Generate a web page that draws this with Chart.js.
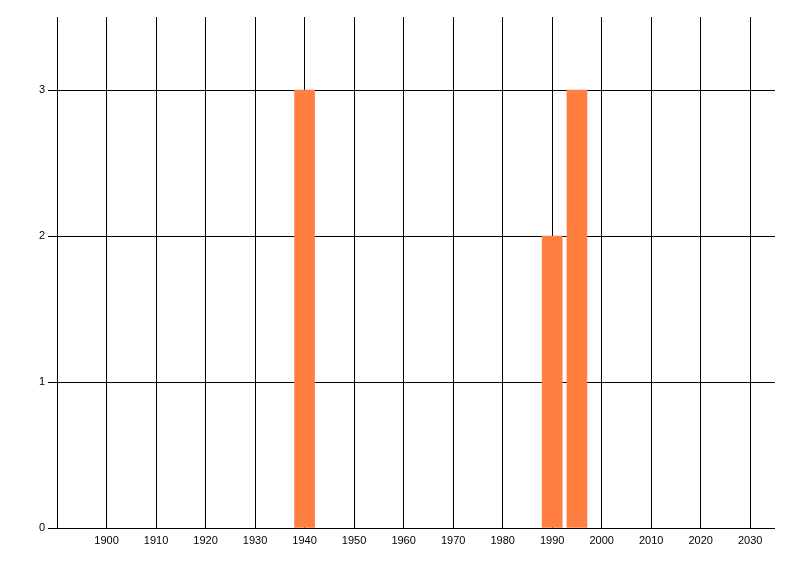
<!DOCTYPE html>
<html>
<head>
<meta charset="utf-8">
<script src="https://cdn.jsdelivr.net/npm/chart.js@4"></script>
<style>
  html, body { margin: 0; padding: 0; background: #fff; }
  #wrap { width: 800px; height: 576px; }
</style>
</head>
<body>
<div id="wrap"><canvas id="myChart" width="800" height="576"></canvas></div>
<script>
const years = [1940, 1990, 1995];
const counts = [3, 2, 3];
const xTicks = [1890, 1900, 1910, 1920, 1930, 1940, 1950, 1960, 1970, 1980, 1990, 2000, 2010, 2020, 2030];
const yTicks = [0, 1, 2, 3];

const ctx = document.getElementById('myChart').getContext('2d');
const myChart = new Chart(ctx, {
    type: 'bar',
    data: {
        datasets: [{
            label: 'Count',
            data: years.map((y, i) => ({ x: y, y: counts[i] })),
            backgroundColor: '#ff7f40',
            borderWidth: 0,
            barThickness: 20
        }]
    },
    options: {
        responsive: false,
        animation: false,
        layout: { padding: { top: 17, right: 25, left: 0, bottom: 0 } },
        plugins: {
            legend: { display: false },
            tooltip: { enabled: false }
        },
        scales: {
            x: {
                type: 'linear',
                min: 1890,
                max: 2035,
                offset: false,
                afterBuildTicks: (scale) => { scale.ticks = xTicks.map(v => ({ value: v })); },
                afterFit: (scale) => { scale.height = 48; },
                border: { display: false },
                grid: { color: '#000', lineWidth: 1, drawTicks: false, offset: false },
                ticks: {
                    autoSkip: false,
                    maxRotation: 0,
                    padding: 6,
                    color: '#000',
                    font: { family: 'Liberation Sans', size: 11 },
                    callback: (v) => v === 1890 ? '' : String(v)
                }
            },
            y: {
                min: 0,
                max: 3.5,
                afterBuildTicks: (scale) => { scale.ticks = yTicks.map(v => ({ value: v })); },
                afterFit: (scale) => { scale.width = 57; },
                border: { display: false },
                grid: { color: '#000', lineWidth: 1, drawTicks: true, tickLength: 9 },
                ticks: {
                    padding: 3,
                    color: '#000',
                    font: { family: 'Liberation Sans', size: 11 }
                }
            }
        }
    }
});
</script>
</body>
</html>
